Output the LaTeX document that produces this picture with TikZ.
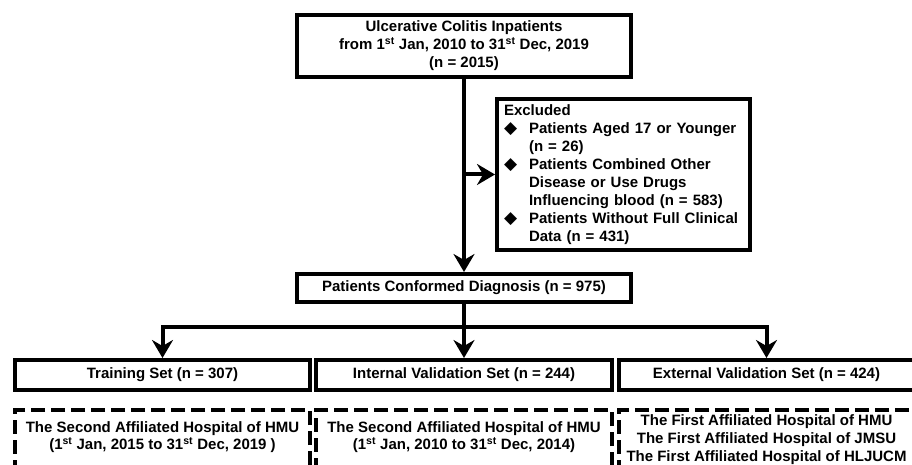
\documentclass[tikz,border=0pt]{standalone}
\usepackage{fontspec}
\setmainfont{Liberation Sans}
\newfontfamily\dejavu{DejaVu Sans}
\usetikzlibrary{arrows.meta}
\newcommand\bul{\makebox[25pt][l]{\hspace{0pt}{\dejavu\fontsize{17}{17}\selectfont ◆}}}
\newcommand\ind{\hspace*{25pt}}
\begin{document}
\begin{tikzpicture}[x=1pt,y=-1pt,
  box/.style={draw, line width=4pt, font=\fontsize{15}{18}\selectfont\bfseries, align=center, inner sep=0pt},
  dbox/.style={box, dash pattern=on 14pt off 6pt},
  arr/.style={line width=4pt, -{Stealth[length=18pt,width=21pt,inset=6pt]}},
  ln/.style={line width=4pt}]
\clip (0,0) rectangle (912,465);
\fill[white] (0,0) rectangle (912,465);

\node[box, minimum width=334pt, minimum height=62pt] (top) at (464,46)
  {Ulcerative Colitis Inpatients\\from 1\textsuperscript{st} Jan, 2010 to 31\textsuperscript{st} Dec, 2019\\(n = 2015)};

\node[box, minimum width=253pt, minimum height=151pt, text width=239pt, align=left] (exc) at (623.5,174.5)
  {Excluded\\
   \bul Patients Aged 17 or Younger\\
   \ind(n = 26)\\
   \bul Patients Combined Other\\
   \ind Disease or Use Drugs\\
   \ind Influencing blood (n = 583)\\
   \bul Patients Without Full Clinical\\
   \ind Data (n = 431)};

\node[box, minimum width=334pt, minimum height=28pt] (conf) at (464,288) {Patients Conformed Diagnosis (n = 975)};

\node[box, minimum width=295pt, minimum height=30pt] (train) at (162.5,375) {Training Set (n = 307)};
\node[box, minimum width=296pt, minimum height=30pt] (int) at (464,375) {Internal Validation Set (n = 244)};
\node[box, minimum width=295pt, minimum height=30pt] (ext) at (766.5,375) {External Validation Set (n = 424)};

\node[dbox, minimum width=295pt, minimum height=60pt] (dtrain) at (162.5,440) {};
\node[dbox, minimum width=296pt, minimum height=60pt] (dint) at (464,440) {};
\node[dbox, minimum width=295pt, minimum height=60pt] (dext) at (766.5,440) {};
\node[font=\fontsize{15}{17}\selectfont\bfseries, align=center, inner sep=0pt] (ttrain) at (162.5,437)
  {The Second Affiliated Hospital of HMU\\(1\textsuperscript{st} Jan, 2015 to 31\textsuperscript{st} Dec, 2019 )};
\node[font=\fontsize{15}{17}\selectfont\bfseries, align=center, inner sep=0pt] (tint) at (464,437)
  {The Second Affiliated Hospital of HMU\\(1\textsuperscript{st} Jan, 2010 to 31\textsuperscript{st} Dec, 2014)};
\node[font=\fontsize{15}{18}\selectfont\bfseries, align=center, inner sep=0pt] (text) at (766.5,440)
  {The First Affiliated Hospital of HMU\\The First Affiliated Hospital of JMSU\\The First Affiliated Hospital of HLJUCM};

\draw[arr] (top.south) -- (conf.north);
\draw[arr] (top.south |- exc.west) -- (exc.west);
\coordinate (j) at (464,327);
\draw[ln] (conf.south) -- (j);
\draw[arr] (j) -- (int.north);
\draw[arr] (j) -| (train.north);
\draw[arr] (j) -| (ext.north);
\end{tikzpicture}
\end{document}
